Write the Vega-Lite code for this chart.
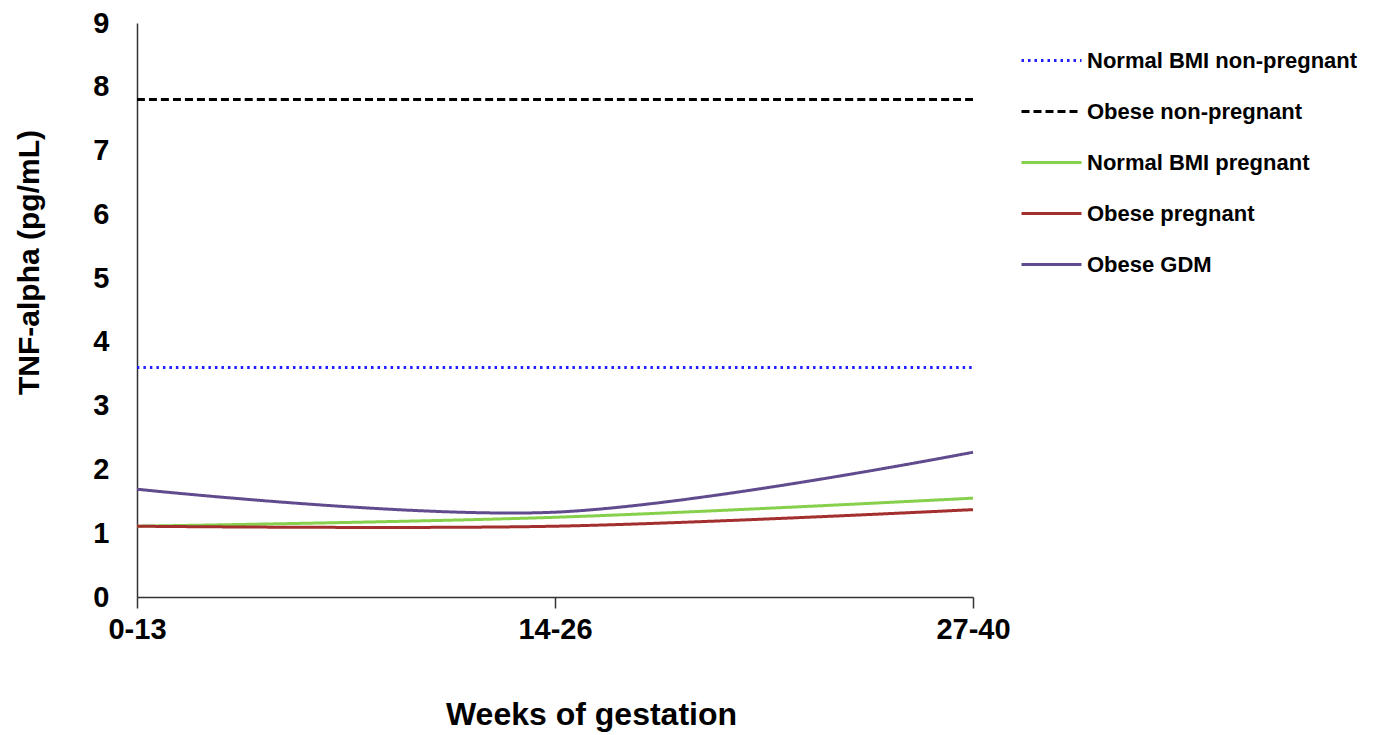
{
  "$schema": "https://vega.github.io/schema/vega-lite/v6.json",
  "width": 836,
  "height": 574,
  "autosize": {"type": "none"},
  "padding": {"left": 137, "top": 23, "right": 405, "bottom": 138},
  "background": "white",
  "config": {
    "view": {"stroke": null},
    "font": "Liberation Sans"
  },
  "data": {
    "values": [
      {"series": "Normal BMI non-pregnant", "weeks": "0-13", "value": 3.6},
      {"series": "Normal BMI non-pregnant", "weeks": "14-26", "value": 3.6},
      {"series": "Normal BMI non-pregnant", "weeks": "27-40", "value": 3.6},
      {"series": "Obese non-pregnant", "weeks": "0-13", "value": 7.8},
      {"series": "Obese non-pregnant", "weeks": "14-26", "value": 7.8},
      {"series": "Obese non-pregnant", "weeks": "27-40", "value": 7.8},
      {"series": "Normal BMI pregnant", "weeks": "0-13", "value": 1.11},
      {"series": "Normal BMI pregnant", "weeks": "14-26", "value": 1.25},
      {"series": "Normal BMI pregnant", "weeks": "27-40", "value": 1.55},
      {"series": "Obese pregnant", "weeks": "0-13", "value": 1.11},
      {"series": "Obese pregnant", "weeks": "14-26", "value": 1.11},
      {"series": "Obese pregnant", "weeks": "27-40", "value": 1.37},
      {"series": "Obese GDM", "weeks": "0-13", "value": 1.69},
      {"series": "Obese GDM", "weeks": "14-26", "value": 1.33},
      {"series": "Obese GDM", "weeks": "27-40", "value": 2.27}
    ]
  },
  "mark": {"type": "line", "interpolate": "cardinal", "strokeWidth": 3},
  "encoding": {
    "x": {
      "field": "weeks",
      "type": "ordinal",
      "sort": ["0-13", "14-26", "27-40"],
      "scale": {"type": "point", "padding": 0},
      "axis": {
        "title": "Weeks of gestation",
        "titleFontSize": 32,
        "titleFontWeight": "bold",
        "titleColor": "black",
        "titleX": 454,
        "titleY": 117,
        "titleBaseline": "middle",
        "labelAngle": 0,
        "labelFontSize": 29,
        "labelFontWeight": "bold",
        "labelColor": "black",
        "labelPadding": 7,
        "tickSize": 11,
        "tickColor": "#333333",
        "tickWidth": 1.5,
        "domainColor": "#333333",
        "domainWidth": 1.5,
        "grid": false
      }
    },
    "y": {
      "field": "value",
      "type": "quantitative",
      "scale": {"domain": [0, 9], "nice": false},
      "axis": {
        "title": "TNF-alpha (pg/mL)",
        "titleFontSize": 30,
        "titleFontWeight": "bold",
        "titleColor": "black",
        "titleX": -108,
        "titleY": 239,
        "titleAngle": -90,
        "titleAlign": "center",
        "titleBaseline": "middle",
        "values": [0, 1, 2, 3, 4, 5, 6, 7, 8, 9],
        "labelFontSize": 29,
        "labelFontWeight": "bold",
        "labelColor": "black",
        "labelPadding": 28,
        "ticks": false,
        "domainColor": "#333333",
        "domainWidth": 1.5,
        "grid": false
      }
    },
    "color": {
      "field": "series",
      "type": "nominal",
      "scale": {
        "domain": ["Normal BMI non-pregnant", "Obese non-pregnant", "Normal BMI pregnant", "Obese pregnant", "Obese GDM"],
        "range": ["#1f1fff", "#000000", "#86d04c", "#a3302f", "#604b8e"]
      },
      "legend": {
        "title": null,
        "orient": "none",
        "legendX": 883,
        "legendY": 6,
        "symbolType": "stroke",
        "symbolSize": 3600,
        "symbolStrokeWidth": 3,
        "labelFontSize": 22,
        "labelFontWeight": "bold",
        "labelColor": "black",
        "labelOffset": 4,
        "labelLimit": 400,
        "rowPadding": 8
      }
    },
    "strokeDash": {
      "field": "series",
      "type": "nominal",
      "scale": {
        "domain": ["Normal BMI non-pregnant", "Obese non-pregnant", "Normal BMI pregnant", "Obese pregnant", "Obese GDM"],
        "range": [[2.5, 4], [8, 4], [1, 0], [1, 0], [1, 0]]
      },
      "legend": {
        "title": null,
        "orient": "none",
        "legendX": 883,
        "legendY": 6,
        "symbolType": "stroke",
        "symbolSize": 3600,
        "symbolStrokeWidth": 3,
        "labelFontSize": 22,
        "labelFontWeight": "bold",
        "labelColor": "black",
        "labelOffset": 4,
        "labelLimit": 400,
        "rowPadding": 8
      }
    }
  }
}
